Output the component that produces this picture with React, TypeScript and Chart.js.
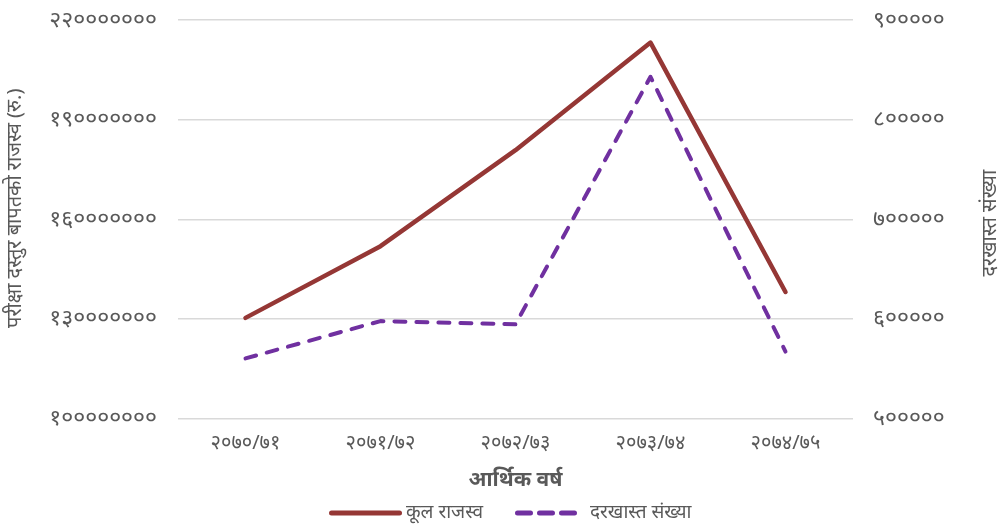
import React, { useEffect, useRef } from 'react';
import { Chart, registerables } from 'chart.js';

Chart.register(...registerables);

const categories = ['२०७०/७१', '२०७१/७२', '२०७२/७३', '२०७३/७४', '२०७४/७५'];
const revenue = [130300000, 151900000, 180800000, 213200000, 138100000];
const applications = [560300, 597800, 594500, 843000, 567200];
const leftTicks = [100000000, 130000000, 160000000, 190000000, 220000000];
const rightTicks = [500000, 600000, 700000, 800000, 900000];

const revenueLabel = 'कूल राजस्व';
const applicationsLabel = 'दरखास्त संख्या';
const xTitle = 'आर्थिक वर्ष';
const leftTitle = 'परीक्षा दस्तुर बापतको राजस्व (रु.)';
const rightTitle = 'दरखास्त संख्या';

const FONT = '"Noto Sans", "Noto Sans Devanagari", sans-serif';
const GREY = '#595959';
const RED = '#953735';
const PURPLE = '#7030A0';
const DEV = '०१२३४५६७८९';
const toDev = (v: number | string) => String(v).replace(/\d/g, (d) => DEV[Number(d)]);

const sideTitlesPlugin = {
  id: 'sideTitles',
  afterDraw(chart: any) {
    const ctx = chart.ctx;
    const ca = chart.chartArea;
    const mid = (ca.top + ca.bottom) / 2;
    const draw = (text: string, x: number, y: number) => {
      ctx.save();
      ctx.translate(x, y);
      ctx.rotate(-Math.PI / 2);
      ctx.fillStyle = GREY;
      ctx.font = `20px ${FONT}`;
      ctx.textAlign = 'center';
      ctx.textBaseline = 'middle';
      ctx.fillText(text, 0, 0);
      ctx.restore();
    };
    draw(leftTitle, chart.scales.y.left + 15, mid - 11);
    draw(rightTitle, chart.scales.y1.right - 8, mid + 4);
  },
};

// legend drawn from the datasets' labels and styles
const legendPlugin = {
  id: 'customLegend',
  afterDraw(chart: any) {
    const ctx = chart.ctx;
    const ds = chart.data.datasets;
    const y = 513;
    const items = [
      { x0: 331.5, x1: 399.5, tx: 406, dash: [] as number[] },
      { x0: 517.5, x1: 574.5, tx: 590, dash: [13, 9] },
    ];
    items.forEach((it, i) => {
      const d = ds[i];
      ctx.save();
      ctx.strokeStyle = d.borderColor;
      ctx.lineWidth = 5;
      ctx.lineCap = 'round';
      ctx.setLineDash(it.dash);
      ctx.beginPath();
      ctx.moveTo(it.x0, y);
      ctx.lineTo(it.x1, y);
      ctx.stroke();
      ctx.setLineDash([]);
      ctx.fillStyle = GREY;
      ctx.font = `19px ${FONT}`;
      ctx.textAlign = 'left';
      ctx.textBaseline = 'middle';
      ctx.fillText(d.label, it.tx, y);
      ctx.restore();
    });
  },
};

export default function App() {
  const ref = useRef<HTMLCanvasElement | null>(null);

  useEffect(() => {
    document.body.style.margin = '0';
    const canvas = ref.current;
    if (!canvas) return;
    const chart = new Chart(canvas, {
      type: 'line',
      data: {
        labels: categories,
        datasets: [
          {
            label: revenueLabel,
            data: revenue,
            yAxisID: 'y',
            borderColor: RED,
            backgroundColor: RED,
            borderWidth: 4.5,
            borderCapStyle: 'round',
            borderJoinStyle: 'round',
            pointRadius: 0,
            tension: 0,
          },
          {
            label: applicationsLabel,
            data: applications,
            yAxisID: 'y1',
            borderColor: PURPLE,
            backgroundColor: PURPLE,
            borderWidth: 4,
            borderDash: [11, 11],
            borderCapStyle: 'round',
            borderJoinStyle: 'round',
            pointRadius: 0,
            tension: 0,
          },
        ],
      },
      plugins: [sideTitlesPlugin, legendPlugin],
      options: {
        animation: false,
        responsive: true,
        maintainAspectRatio: false,
        layout: { padding: { top: 20, left: 0, right: 0, bottom: 0 } },
        plugins: {
          tooltip: { enabled: false },
          legend: { display: false },
        },
        scales: {
          x: {
            offset: true,
            grid: { display: false, drawTicks: false },
            border: { display: false },
            ticks: {
              color: GREY,
              padding: 13,
              font: { family: FONT, size: 20 },
              callback: (v: any, i: number) => categories[i],
            },
            title: {
              display: true,
              text: xTitle,
              color: GREY,
              font: { family: FONT, size: 21, weight: 'bold' },
              padding: { top: 0, bottom: 36 },
            },
            afterFit: (s: any) => {
              s.height = 110.5;
            },
          },
          y: {
            position: 'left',
            min: leftTicks[0],
            max: leftTicks[leftTicks.length - 1],
            afterBuildTicks: (s: any) => {
              s.ticks = leftTicks.map((v) => ({ value: v }));
            },
            grid: { color: '#d9d9d9', lineWidth: 1.5, drawTicks: false },
            border: { display: false },
            ticks: {
              color: GREY,
              padding: 21,
              font: { family: FONT, size: 23 },
              callback: (v: any) => toDev(v),
            },
            afterFit: (s: any) => {
              s.width = 178;
              s.paddingTop = 0;
              s.paddingBottom = 0;
            },
          },
          y1: {
            position: 'right',
            min: rightTicks[0],
            max: rightTicks[rightTicks.length - 1],
            afterBuildTicks: (s: any) => {
              s.ticks = rightTicks.map((v) => ({ value: v }));
            },
            grid: { drawOnChartArea: false, drawTicks: false },
            border: { display: false },
            ticks: {
              color: GREY,
              padding: 20,
              font: { family: FONT, size: 23 },
              callback: (v: any) => toDev(v),
            },
            afterFit: (s: any) => {
              s.width = 145;
              s.paddingTop = 0;
              s.paddingBottom = 0;
            },
          },
        },
      },
    } as any);
    return () => chart.destroy();
  }, []);

  return (
    <div style={{ position: 'absolute', left: 0, top: 0, width: 998, height: 529 }}>
      <canvas ref={ref} />
    </div>
  );
}
